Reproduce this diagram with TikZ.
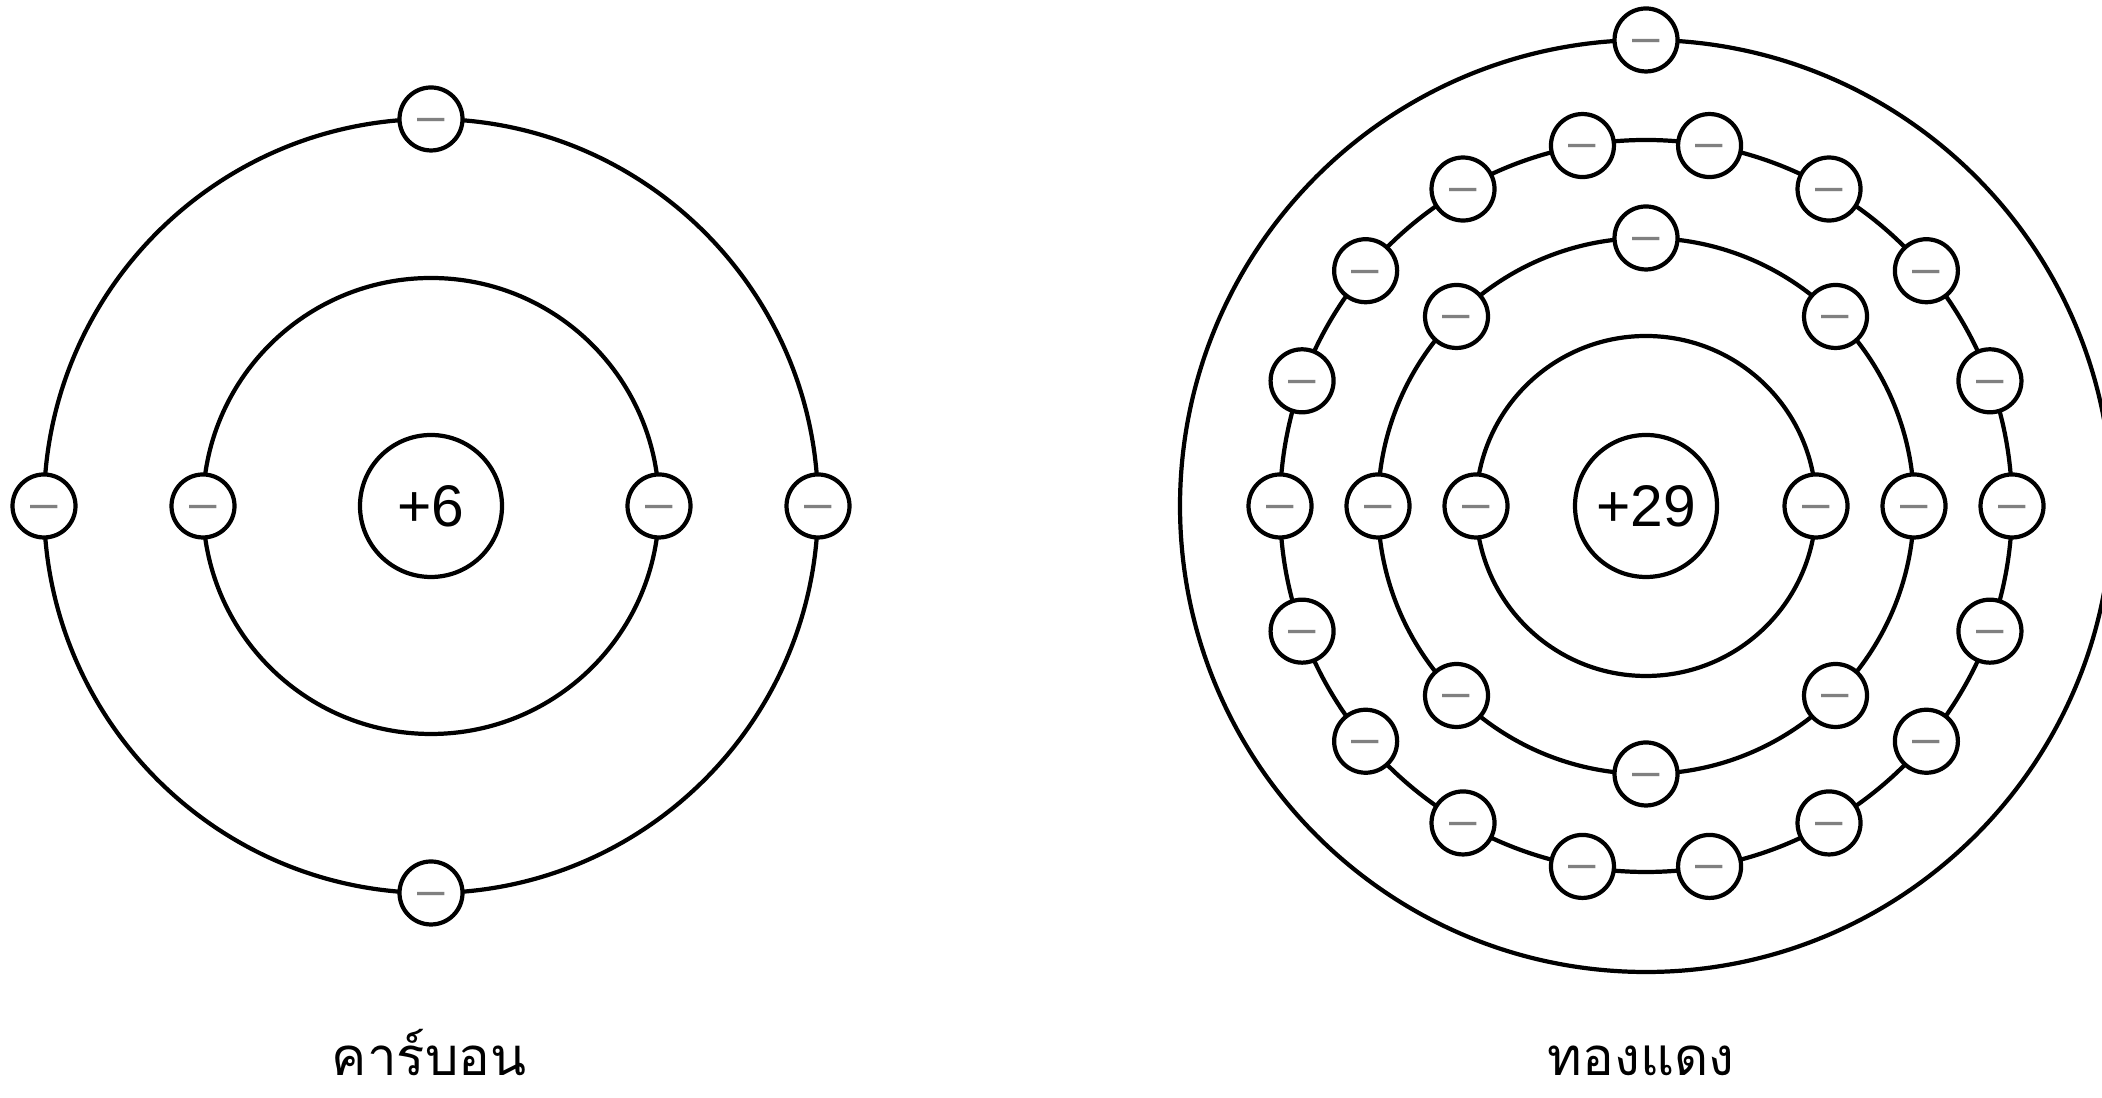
\documentclass[tikz,border=0pt]{standalone}
\usepackage{fontspec}
\setmainfont{Liberation Sans}
\newfontfamily\thaifont[Script=Thai]{Loma}
\begin{document}
\begin{tikzpicture}[x=1cm,y=1cm]

        % Stile globale per le linee
        \tikzstyle{every path}=[line width=1.2pt]
        \tikzstyle{nucleo}=[draw, circle, minimum size=1.42cm, inner sep=0pt, font=\fontsize{16.7}{20}\selectfont]
        \tikzstyle{elettrone}=[draw, circle, fill=white, minimum size=0.63cm, inner sep=0pt, text=gray, text height=7.6pt, text depth=0pt, font=\fontsize{14}{14}\selectfont]
        \tikzstyle{nome}=[anchor=base, font=\thaifont\fontsize{15}{18}\selectfont]

        % Area della figura (proporzioni 2102 x 1098)
        \useasboundingbox (0,0) rectangle (21.02,10.98);

        % Nuclei
        \node[nucleo] (carbonio) at (4.31,5.92) {+6};
        \node[nucleo] (rame) at (16.46,5.92) {+29};

        % Orbite del carbonio
        \draw (carbonio.center) circle (2.28);
        \draw (carbonio.center) circle (3.87);

        % Orbite del rame
        \foreach \r in {1.70,2.68,3.66,4.66}
            \draw (rame.center) circle (\r);

        % Elettroni del carbonio (2 + 4)
        \foreach \a in {0,180}
            \node[elettrone] (c1-\a) at ([shift={(\a:2.28)}]carbonio.center) {–};
        \foreach \a in {0,90,180,270}
            \node[elettrone] (c2-\a) at ([shift={(\a:3.87)}]carbonio.center) {–};

        % Elettroni del rame (2 + 8 + 18 + 1)
        \foreach \a in {0,180}
            \node[elettrone] (r1-\a) at ([shift={(\a:1.70)}]rame.center) {–};
        \foreach \a in {0,45,...,315}
            \node[elettrone] (r2-\a) at ([shift={(\a:2.68)}]rame.center) {–};
        \foreach \a in {0,20,...,340}
            \node[elettrone] (r3-\a) at ([shift={(\a:3.66)}]rame.center) {–};
        \node[elettrone] (r4-90) at ([shift={(90:4.66)}]rame.center) {–};

        % Nomi degli atomi
        \node[nome] (nomecarbonio) at (4.29,0.22) {คาร์บอน};
        \node[nome] (nomerame) at (16.41,0.22) {ทองแดง};

    \end{tikzpicture}
\end{document}
